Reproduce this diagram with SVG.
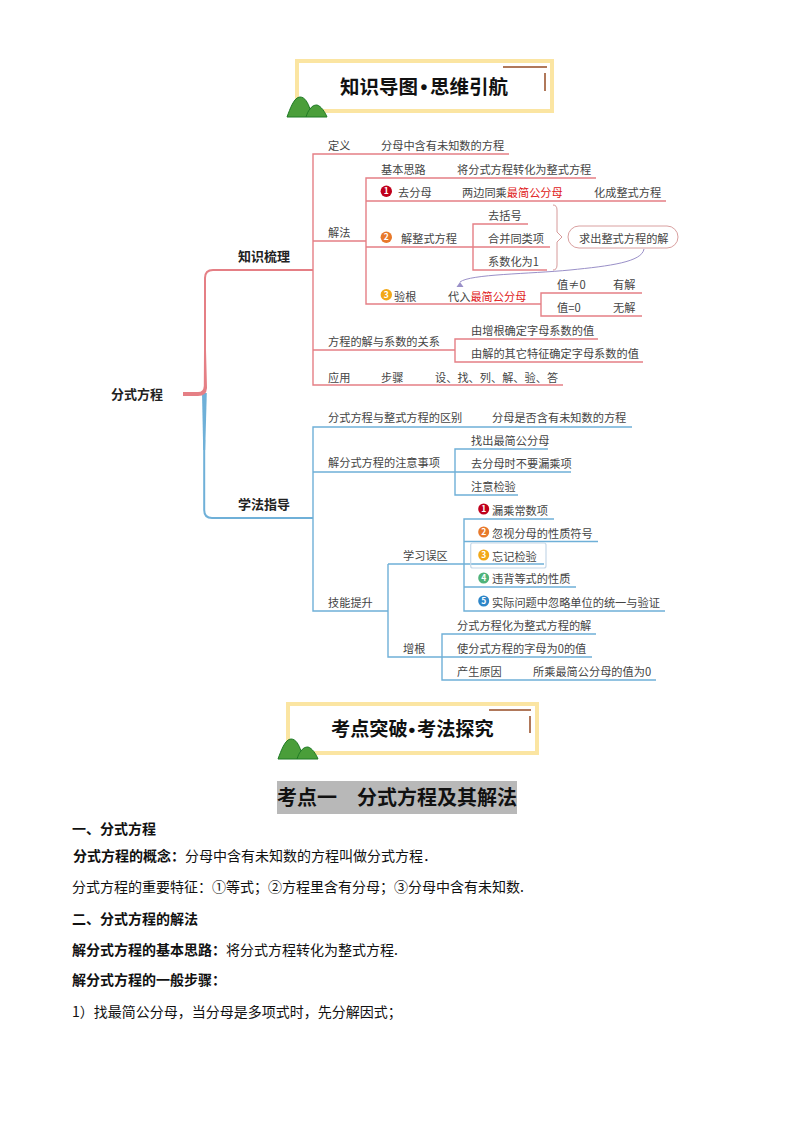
<svg xmlns="http://www.w3.org/2000/svg" width="794" height="1123" viewBox="0 0 794 1123">
<style>
text{font-family:"Noto Sans CJK SC","Liberation Sans",sans-serif;fill:#444;font-size:11.2px}
.b{font-size:13px;font-weight:700;fill:#222}
.h{font-size:19.5px;font-weight:700;fill:#111}
.dot{font-family:"Liberation Sans",sans-serif}
.t{font-size:14px;fill:#111}
.tb{font-weight:700}
.r{fill:#e02020}
.n{fill:#fff;font-size:8.5px;font-weight:700;text-anchor:middle}
.lr{fill:none;stroke:#e57f85;stroke-width:1.4}
.lb{fill:none;stroke:#6fb0d8;stroke-width:1.4}
.frame{fill:#fff;stroke:#fbe5a2;stroke-width:4}
.brown{fill:none;stroke:#b0785a;stroke-width:2}
.hill{fill:#4a9e3a;stroke:#1f7a25;stroke-width:1}
</style>
<defs>
<g id="hills">
<path class="hill" d="M0,20 C3,12 7,0 13,0 C18,0 21,6 23,12 C25,9 27,8 30,8 C34,9 38,15 40,20 Z"/>
<path d="M23,12 C21,14 20,17 19,20" fill="none" stroke="#1f7a25" stroke-width="1"/>
</g>
</defs>
<rect width="794" height="1123" fill="#fff"/>

<g id="banner1">
<rect class="frame" x="297" y="61" width="255" height="50"/>
<path class="brown" d="M503,67H547M545,73V91"/>
<use href="#hills" x="287" y="97"/>
<text class="h" y="94"><tspan x="340">知识导图</tspan><tspan class="dot" x="420.600">•</tspan><tspan x="430">思维引航</tspan></text>
</g>

<g id="connectors">
<path d="M202,393L203.2,450H205.2L206.8,393Z" fill="#6fb0d8"/>
<path d="M204.2,440V510Q204.2,518 212,518H313" fill="none" stroke="#6fb0d8" stroke-width="2"/>
<path d="M183,392H198Q203.5,392 203.8,386L204,350H206L207,388Q206.5,396 198,396H183Z" fill="#e57f85"/>
<path d="M205,360V278Q205,270 213,270H313" fill="none" stroke="#e57f85" stroke-width="2"/>
<path class="lr" d="M509,154H313V385H563M313,241H366M596,178H366V304H541M666,201H366M366,247H550M528,224H473V270H547M642,293H541V316H642M313,350H455M598,339H455V362H643"/>
<path class="lb" d="M632,427H313V611H388M313,472H455M548,449H455V495H518M455,472H571M388,564V657H592M388,564H464M554,519H464V611H665M464,541.5H598M464,564H544M464,587H576M596,634H442V680H656"/>
<path d="M553,205Q557,205 557,210V232L562,237L557,242V265Q557,270 553,270" fill="none" stroke="#d69a9a" stroke-width="1"/>
<path d="M644,249C642,262 610,266 570,270C530,274 470,274 460,282" fill="none" stroke="#9a90c8" stroke-width="1"/>
<path d="M460,282L463.5,287H456.5Z" fill="#9a90c8"/>
</g>

<g id="root"><text class="b" x="111" y="399">分式方程</text></g>
<g id="n-zhishi"><text class="b" x="238" y="261">知识梳理</text></g>
<g id="n-xuefa"><text class="b" x="238" y="509">学法指导</text></g>

<g id="n-dingyi"><text x="328" y="150">定义</text><text x="381" y="150">分母中含有未知数的方程</text></g>
<g id="n-jiefa"><text x="328" y="237">解法</text></g>
<g id="n-silu"><text x="381" y="174">基本思路</text><text x="457" y="174">将分式方程转化为整式方程</text></g>
<g id="n-qufenmu">
<circle cx="386.3" cy="191.3" r="5.7" fill="#c0001c"/><text class="n" x="386.3" y="194.3">1</text>
<text x="398" y="197">去分母</text>
<text x="462" y="197">两边同乘<tspan class="r">最简公分母</tspan></text>
<text x="594" y="197">化成整式方程</text>
</g>
<g id="n-jiezhengshi">
<circle cx="386.3" cy="237.3" r="5.7" fill="#e8792b"/><text class="n" x="386.3" y="240.3">2</text>
<text x="401" y="243">解整式方程</text>
<text x="488" y="220">去括号</text>
<text x="488" y="243">合并同类项</text>
<text x="488" y="266">系数化为1</text>
</g>
<g id="n-qiuchu">
<rect x="568" y="226" width="110" height="22" rx="11" fill="#fff" stroke="#d9a0a0" stroke-width="1"/>
<text x="579" y="242.500">求出整式方程的解</text>
</g>
<g id="n-yangen">
<circle cx="386.3" cy="294.7" r="5.7" fill="#f2a818"/><text class="n" x="386.3" y="297.7">3</text>
<text x="394" y="301">验根</text>
<text x="448" y="301">代入<tspan class="r">最简公分母</tspan></text>
<text x="557" y="289">值≠0</text><text x="613" y="289">有解</text>
<text x="557" y="312">值=0</text><text x="613" y="312">无解</text>
</g>
<g id="n-guanxi">
<text x="328" y="346">方程的解与系数的关系</text>
<text x="471" y="335">由增根确定字母系数的值</text>
<text x="471" y="358">由解的其它特征确定字母系数的值</text>
</g>
<g id="n-yingyong"><text x="328" y="382">应用</text><text x="381" y="382">步骤</text><text x="435" y="382">设、找、列、解、验、答</text></g>

<g id="n-qubie"><text x="328" y="422">分式方程与整式方程的区别</text><text x="492" y="422">分母是否含有未知数的方程</text></g>
<g id="n-zhuyi">
<text x="328" y="467">解分式方程的注意事项</text>
<text x="471" y="445">找出最简公分母</text>
<text x="471" y="468">去分母时不要漏乘项</text>
<text x="471" y="491">注意检验</text>
</g>
<g id="n-jineng"><text x="328" y="607">技能提升</text></g>
<g id="n-wuqu">
<text x="403" y="560">学习误区</text>
<circle cx="483.7" cy="509" r="5.5" fill="#c0001c"/><text class="n" x="483.7" y="512">1</text>
<text x="492" y="514.500">漏乘常数项</text>
<circle cx="483.7" cy="532" r="5.5" fill="#e8792b"/><text class="n" x="483.7" y="535">2</text>
<text x="492" y="537.500">忽视分母的性质符号</text>
<rect x="470.7" y="543" width="75.3" height="25" rx="2" fill="none" stroke="#c5d8e8" stroke-width="1.2"/>
<circle cx="483.7" cy="555" r="5.5" fill="#f2a818"/><text class="n" x="483.7" y="558">3</text>
<text x="492" y="560.500">忘记检验</text>
<circle cx="483.7" cy="578" r="5.5" fill="#4fb37a"/><text class="n" x="483.7" y="581">4</text>
<text x="492" y="583">违背等式的性质</text>
<circle cx="483.7" cy="601" r="5.5" fill="#2e86c8"/><text class="n" x="483.7" y="604">5</text>
<text x="492" y="606.500">实际问题中忽略单位的统一与验证</text>
</g>
<g id="n-zenggen">
<text x="403" y="653">增根</text>
<text x="457" y="629.500">分式方程化为整式方程的解</text>
<text x="457" y="652.500">使分式方程的字母为0的值</text>
<text x="457" y="675.500">产生原因</text>
<text x="533" y="675.500">所乘最简公分母的值为0</text>
</g>

<g id="banner2">
<rect class="frame" x="288" y="704" width="249" height="49"/>
<path class="brown" d="M489,710H531M530,716V733"/>
<use href="#hills" x="278" y="739"/>
<text class="h" y="736" style="font-size:19.2px"><tspan x="331">考点突破</tspan><tspan class="dot" x="408.500">•</tspan><tspan x="417">考法探究</tspan></text>
</g>

<g id="title">
<rect x="277" y="781" width="240" height="33" fill="#b8b8b8"/>
<text x="277" y="805" style="font-size:20px;font-weight:700;fill:#111">考点一<tspan x="357">分式方程及其解法</tspan></text>
</g>

<g id="body">
<text class="t tb" x="72" y="834">一、分式方程</text>
<text class="t" x="73" y="861"><tspan class="tb">分式方程的概念：</tspan>分母中含有未知数的方程叫做分式方程．</text>
<text class="t" x="72" y="892">分式方程的重要特征：①等式；②方程里含有分母；③分母中含有未知数.</text>
<text class="t tb" x="72" y="924">二、分式方程的解法</text>
<text class="t" x="72" y="955"><tspan class="tb">解分式方程的基本思路：</tspan>将分式方程转化为整式方程.</text>
<text class="t tb" x="72" y="985">解分式方程的一般步骤：</text>
<text class="t" x="72" y="1017">1）找最简公分母，当分母是多项式时，先分解因式；</text>
</g>
</svg>
